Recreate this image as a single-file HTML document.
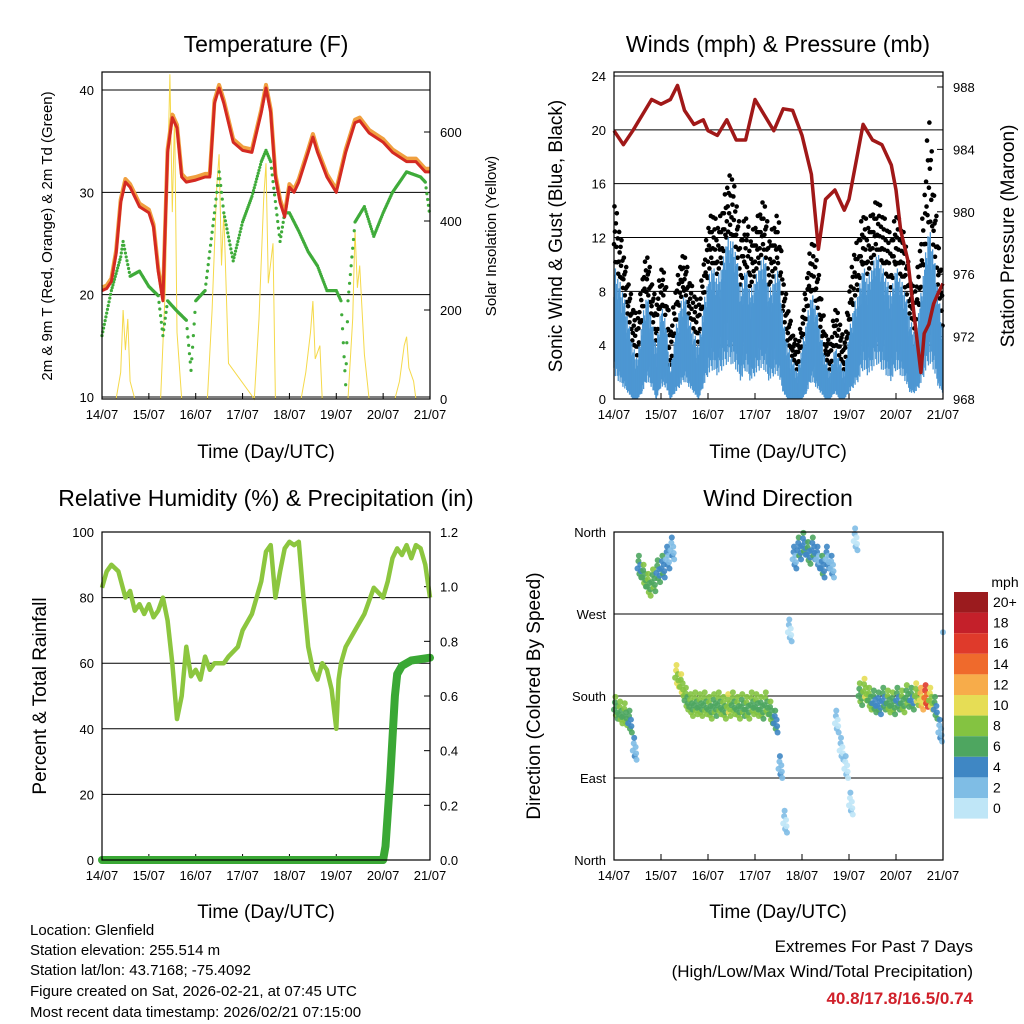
<!DOCTYPE html>
<html><head><meta charset="utf-8"><style>
html,body{margin:0;padding:0;background:#fff;}
svg{display:block;font-family:"Liberation Sans",sans-serif;}
</style></head><body>
<svg id="s" width="1024" height="1024" viewBox="0 0 1024 1024">
<text x="266" y="52" font-size="23" text-anchor="middle">Temperature (F)</text>
<text x="778" y="52" font-size="23" text-anchor="middle">Winds (mph) &amp; Pressure (mb)</text>
<text x="266" y="506" font-size="23" text-anchor="middle">Relative Humidity (%) &amp; Precipitation (in)</text>
<text x="778" y="506" font-size="23" text-anchor="middle">Wind Direction</text>
<text x="266" y="458" font-size="19" text-anchor="middle">Time (Day/UTC)</text>
<text x="778" y="458" font-size="19" text-anchor="middle">Time (Day/UTC)</text>
<text x="266" y="918" font-size="19" text-anchor="middle">Time (Day/UTC)</text>
<text x="778" y="918" font-size="19" text-anchor="middle">Time (Day/UTC)</text>
<text transform="translate(52,236) rotate(-90)" font-size="15" text-anchor="middle">2m &amp; 9m T (Red, Orange) &amp; 2m Td (Green)</text>
<text transform="translate(496,236) rotate(-90)" font-size="15" text-anchor="middle">Solar Insolation (Yellow)</text>
<text transform="translate(562,236) rotate(-90)" font-size="19" text-anchor="middle">Sonic Wind &amp; Gust (Blue, Black)</text>
<text transform="translate(1014,236) rotate(-90)" font-size="19" text-anchor="middle">Station Pressure (Maroon)</text>
<text transform="translate(46,696) rotate(-90)" font-size="19" text-anchor="middle">Percent &amp; Total Rainfall</text>
<text transform="translate(540,696) rotate(-90)" font-size="19" text-anchor="middle">Direction (Colored By Speed)</text>
<g font-size="15">
<text x="30" y="935">Location: Glenfield</text>
<text x="30" y="955">Station elevation: 255.514 m</text>
<text x="30" y="975">Station lat/lon: 43.7168; -75.4092</text>
<text x="30" y="996">Figure created on Sat, 2026-02-21, at 07:45 UTC</text>
<text x="30" y="1017">Most recent data timestamp: 2026/02/21 07:15:00</text>
</g>
<g text-anchor="end" font-size="17">
<text x="973" y="952">Extremes For Past 7 Days</text>
<text x="973" y="977">(High/Low/Max Wind/Total Precipitation)</text>
<text x="973" y="1004" fill="#d0202a" font-weight="bold">40.8/17.8/16.5/0.74</text>
</g>
<text x="1005" y="587" font-size="14" text-anchor="middle">mph</text>
</svg>
<script>
// ---------- data ----------
const dayLabels=["14/07","15/07","16/07","17/07","18/07","19/07","20/07","21/07"];
const tempT=[0,0.1,0.2,0.3,0.4,0.5,0.6,0.8,1.0,1.1,1.2,1.3,1.4,1.5,1.6,1.7,1.8,2.0,2.2,2.3,2.4,2.5,2.6,2.8,3.0,3.2,3.4,3.5,3.6,3.7,3.8,3.9,4.0,4.1,4.2,4.4,4.5,4.6,4.8,5.0,5.2,5.4,5.5,5.7,6.0,6.2,6.5,6.7,6.9,7.0];
const temp2m=[20.4,20.6,21.3,24,29,31,30.5,28.6,28,26.6,22.3,19.4,33.9,37.3,36.3,31.5,31,31.2,31.5,31.5,38.7,40.2,38.7,34.9,34.1,33.9,37.8,40.2,37.8,31.5,29,27.6,30.5,30,31,33.9,35.4,33.9,31.5,30,33.9,36.8,37,35.8,34.9,33.9,33,33,32,32];
const dewT=[0,0.2,0.4,0.45,0.6,0.8,1.0,1.2,1.3,1.4,1.6,1.8,1.9,2.0,2.2,2.4,2.5,2.6,2.8,3.0,3.2,3.4,3.5,3.6,3.8,3.9,4.0,4.2,4.4,4.6,4.8,5.0,5.1,5.2,5.25,5.4,5.6,5.8,6.0,6.2,6.5,6.8,6.9,7.0];
const dew=[16,20.4,23.7,25.2,21.8,22.3,20.8,19.9,16,19.4,18.4,17.5,12.6,19.4,20.4,28,32,28,23.3,27.1,29.6,33,34.1,33,25.2,28,28,26.2,24.2,22.8,20.4,20.4,19.4,11.2,19.4,27.1,28.6,25.7,28,30,32,31.5,31,27.6];
const solarT=[0.3,0.4,0.45,0.5,0.55,0.6,0.7,1.25,1.35,1.4,1.45,1.5,1.55,1.6,1.7,2.25,2.35,2.45,2.5,2.55,2.6,2.7,3.25,3.35,3.45,3.5,3.55,3.65,3.7,4.25,4.35,4.45,4.5,4.55,4.65,4.7,5.25,5.35,5.4,5.45,5.5,5.6,5.7,6.25,6.35,6.45,6.5,6.55,6.65,6.7];
const solar=[0,60,200,110,180,40,0,0,250,500,730,420,640,150,0,0,200,480,550,300,420,80,0,180,450,530,260,350,0,0,60,150,220,90,120,0,0,180,380,250,300,100,0,0,40,120,140,70,40,0];
const windT=[0,0.1,0.2,0.3,0.4,0.5,0.6,0.7,0.8,0.9,1.0,1.1,1.2,1.3,1.4,1.5,1.6,1.7,1.8,1.9,2.0,2.1,2.2,2.3,2.4,2.5,2.6,2.7,2.8,2.9,3.0,3.1,3.2,3.3,3.4,3.5,3.6,3.7,3.8,3.9,4.0,4.1,4.2,4.3,4.4,4.5,4.6,4.7,4.8,4.9,5.0,5.1,5.2,5.3,5.4,5.5,5.6,5.7,5.8,5.9,6.0,6.1,6.2,6.3,6.4,6.5,6.6,6.7,6.8,6.9,7.0];
const windHi=[10,9,8,6,4,3,6,8,6,4,7,6,2,5,7,8,6,5,4,7,9,10,9,10,12,12,11,8,10,8,9,10,11,8,9,10,6,4,3,2,4,6,8,7,5,3,2,4,3,2,5,7,8,10,9,10,11,10,9,8,10,9,8,6,5,7,10,13,11,8,5];
const windLo=[4,3,2,1,0,0,1,3,2,0,2,2,0,1,2,3,2,1,0,2,4,5,4,5,6,6,5,3,5,3,4,5,5,3,4,4,1,0,0,0,0,1,3,2,1,0,0,1,0,0,1,2,3,5,4,5,6,5,4,3,5,4,3,1,1,2,4,6,5,2,1];
const gust=[15,13,11,9,7,6,9,11,9,7,10,9,5,8,10,11,9,8,7,10,13,14,13,14,16,17,15,12,14,12,13,14,15,12,13,14,9,7,5,4,6,9,12,11,8,5,4,7,6,4,8,11,12,14,13,14,15,14,13,12,14,13,12,9,8,11,15,22,16,12,8];
const presT=[0,0.2,0.4,0.6,0.8,1.0,1.2,1.35,1.5,1.7,1.9,2.0,2.2,2.4,2.6,2.8,3.0,3.2,3.4,3.6,3.8,4.0,4.2,4.35,4.5,4.7,4.9,5.0,5.2,5.3,5.5,5.7,5.9,6.0,6.1,6.25,6.4,6.53,6.6,6.7,6.8,6.9,7.0];
const pres=[985.2,984.3,985.2,986.2,987.2,986.9,987.2,988.1,986.5,985.6,985.9,985.2,984.9,985.9,984.6,984.6,987.2,986.2,985.2,986.6,986.5,984.9,982.4,977.6,980.8,981.4,980.1,980.8,984,985.6,984.6,984.3,983,981.4,978.8,976.9,973,969.7,972.2,972.8,974.1,974.8,975.4];
const rhT=[0,0.1,0.2,0.35,0.5,0.6,0.7,0.8,0.9,1.0,1.1,1.2,1.3,1.4,1.5,1.6,1.7,1.8,1.9,2.0,2.1,2.2,2.3,2.4,2.6,2.7,2.9,3.0,3.2,3.4,3.5,3.6,3.7,3.8,3.9,4.0,4.1,4.2,4.3,4.4,4.5,4.6,4.7,4.8,4.9,5.0,5.05,5.1,5.2,5.4,5.6,5.8,6.0,6.1,6.2,6.3,6.4,6.5,6.6,6.7,6.8,6.9,7.0];
const rh=[83,88,90,88,80,82,76,78,75,78,74,76,80,73,60,43,50,65,56,58,55,62,58,60,60,62,65,70,75,85,94,96,80,88,95,97,96,97,80,65,58,55,60,58,52,40,55,60,65,70,75,83,80,85,92,95,93,96,92,96,95,90,80];
const rainT=[0,6.0,6.05,6.15,6.25,6.3,6.4,6.6,7.0];
const rain=[0,0,0.05,0.3,0.6,0.68,0.71,0.73,0.74];
const dirT=windT;
const dirDeg=[165,160,158,150,120,320,310,300,305,315,320,330,340,200,190,175,168,170,168,170,165,168,170,165,168,170,165,168,165,170,168,165,170,160,150,100,40,250,330,340,345,335,340,330,320,330,320,150,120,100,60,350,180,185,175,172,170,175,172,170,175,172,178,175,180,175,178,175,165,140,250];
const dirSpd=[7,8,8,6,3,6,7,8,7,6,5,4,3,10,9,8,8,8,8,8,8,7,8,8,9,8,8,7,8,8,8,7,8,7,5,3,2,2,4,5,5,6,5,4,5,4,3,2,2,1,1,2,7,9,8,6,5,6,8,7,6,8,7,6,9,12,16,10,6,3,4];
const cbLabels=["20+","18","16","14","12","10","8","6","4","2","0"];
const cbColors=["#9b1b1e","#c4202a","#df3a2b","#ef6a2c","#f7ac4a","#e6dd55","#84c341","#4ea660","#3f87c4","#7fbde5","#bfe6f7"];

// ---------- helpers ----------
const S=document.getElementById('s');const NS='http://www.w3.org/2000/svg';
function mk(tag,a,parent){const e=document.createElementNS(NS,tag);for(const k in a)e.setAttribute(k,a[k]);(parent||S).appendChild(e);return e;}
function ax(x0,x1,d0,d1){return v=>x0+(v-d0)/(d1-d0)*(x1-x0);}
function pathOf(ts,vs,fx,fy){return ts.map((t,i)=>(i?'L':'M')+fx(t).toFixed(1)+','+fy(vs[i]).toFixed(1)).join('');}

function frame(x0,y0,x1,y1,name,yTicks,fy,yLab,rTicks,fr,rLab,grid){
  const g=mk('g',{});
  
  
  yTicks.forEach((v,i)=>{
    const y=fy(v);
    if(grid){const l=mk('line',{x1:x0,x2:x1,y1:y,y2:y,stroke:'#000','stroke-width':1},g);
    
    }
    const t=mk('text',{x:x0-8,y:y+5,'font-size':13,'text-anchor':'end'},g);t.textContent=yLab[i];
    
    
  });
  if(rTicks)rTicks.forEach((v,i)=>{
    const y=fr(v);
    mk('line',{x1:x1-6,x2:x1,y1:y,y2:y,stroke:'#000'},g);
    const t=mk('text',{x:x1+10,y:y+5,'font-size':13},g);t.textContent=rLab[i];
    
    
  });
  const fx=ax(x0,x1,0,7);
  dayLabels.forEach((d,i)=>{
    const x=fx(i);mk('line',{x1:x,x2:x,y1:y1,y2:y1-6,stroke:'#000'},g);
    const t=mk('text',{x:x,y:y1+20,'font-size':13,'text-anchor':'middle'},g);t.textContent=d;
    
    
  });
  return g;
}
function border(x0,y0,x1,y1){const r=mk('rect',{x:x0,y:y0,width:x1-x0,height:y1-y0,fill:'none',stroke:'#000','stroke-width':1.2});
  
  }

// ---------- Panel 1: temperature ----------
{
const fx=ax(102,430,0,7),fy=ax(397,90,10,40),fs=ax(399,132,0,600);
frame(102,72,430,399,'temperature-panel',[10,20,30,40],fy,['10','20','30','40'],[0,200,400,600],fs,['0','200','400','600'],true);
const sl=mk('path',{d:pathOf(solarT,solar,fx,fs),fill:'none',stroke:'#f5d94a','stroke-width':1});


const g=mk('g',{fill:'#3fab3a'});


for(let i=0;i<dewT.length-1;i++){const n=Math.max(4,Math.round((dewT[i+1]-dewT[i])*60));for(let k=0;k<n;k++){const t=dewT[i]+(dewT[i+1]-dewT[i])*k/n,v=dew[i]+(dew[i+1]-dew[i])*k/n;mk('circle',{cx:fx(t),cy:fy(v),r:1.6},g);}}
const o=mk('path',{d:pathOf(tempT,temp2m.map(v=>v+0.3),fx,fy),fill:'none',stroke:'#f0a040','stroke-width':4,'stroke-linejoin':'round'});


const r=mk('path',{d:pathOf(tempT,temp2m,fx,fy),fill:'none',stroke:'#d42a22','stroke-width':3,'stroke-linejoin':'round'});


border(102,72,430,399);
}
// ---------- Panel 2: winds ----------
{
const fx=ax(614,943,0,7),fy=ax(399,76,0,24),fp=ax(399,87,968,988);
frame(614,72,943,399,'winds-panel',[0,4,8,12,16,20,24],fy,['0','4','8','12','16','20','24'],[968,972,976,980,984,988],fp,['968','972','976','980','984','988'],true);
const gd=mk('g',{fill:'#000'});


const gb=mk('g',{stroke:'#4d97d3','stroke-width':1.3});


const W=[0.3,0.9,0.55,0.1,0.75,0.4,1.0,0.2,0.65,0.05];
for(let i=0;i<windT.length-1;i++){
  for(let k=0;k<10;k++){const f=k/10,t=windT[i]+0.1*f;
    const hi=windHi[i]+(windHi[i+1]-windHi[i])*f,lo=windLo[i]+(windLo[i+1]-windLo[i])*f,gu=gust[i]+(gust[i+1]-gust[i])*f;
    const w=W[k],w2=W[(k+3)%10];
    mk('circle',{cx:fx(t),cy:fy(hi+(gu-hi)*w),r:2.3},gd);
    const top=lo+(hi-lo)*(0.55+0.45*w2),bot=lo*(0.4+0.6*w);
    mk('line',{x1:fx(t),x2:fx(t),y1:fy(bot),y2:fy(top)},gb);}
}
S.appendChild(gb);
const p=mk('path',{d:pathOf(presT,pres,fx,fp),fill:'none',stroke:'#a01818','stroke-width':3.5,'stroke-linejoin':'round'});


border(614,72,943,399);
}
// ---------- Panel 3: RH ----------
{
const fx=ax(102,430,0,7),fy=ax(860,532,0,100),fr=ax(860,532,0,1.2);
frame(102,532,430,860,'rh-panel',[0,20,40,60,80,100],fy,['0','20','40','60','80','100'],[0,0.2,0.4,0.6,0.8,1.0,1.2],fr,['0.0','0.2','0.4','0.6','0.8','1.0','1.2'],true);
const l=mk('path',{d:pathOf(rhT,rh,fx,fy),fill:'none',stroke:'#8cc63f','stroke-width':4.5,'stroke-linejoin':'round'});


const r=mk('path',{d:pathOf(rainT,rain,fx,fr),fill:'none',stroke:'#3aa835','stroke-width':8,'stroke-linejoin':'round','stroke-linecap':'round'});


border(102,532,430,860);
}
// ---------- Panel 4: wind direction ----------
{
const fx=ax(614,943,0,7),fy=ax(860,532,0,360);
frame(614,532,943,860,'direction-panel',[0,90,180,270,360],fy,['North','East','South','West','North'],null,null,null,true);
const g=mk('g',{});


const offs=[[0,0],[0.02,8],[0.04,-6],[0.06,4],[0.08,-10],[0.03,14],[0.07,-3]];
for(let i=0;i<dirT.length;i++){
  offs.forEach(([dt,dd],k)=>{const t=dirT[i]+dt;if(t>7)return;
    const sp=Math.max(0,dirSpd[i]+(k%3)-1),c=Math.max(0,Math.min(10,10-Math.floor(sp/2)));
    mk('circle',{cx:fx(t),cy:fy(dirDeg[i]+dd),r:3,fill:cbColors[c],opacity:0.9},g);});
}
border(614,532,943,860);
const cb=mk('g',{});


cbLabels.forEach((lab,i)=>{
  const y=592+i*20.6;
  mk('rect',{x:954,y:y,width:34,height:20.6,fill:cbColors[i]},cb);
  const t=mk('text',{x:993,y:y+15,'font-size':14},cb);t.textContent=lab;
  
  
});
}
</script>
</body></html>
